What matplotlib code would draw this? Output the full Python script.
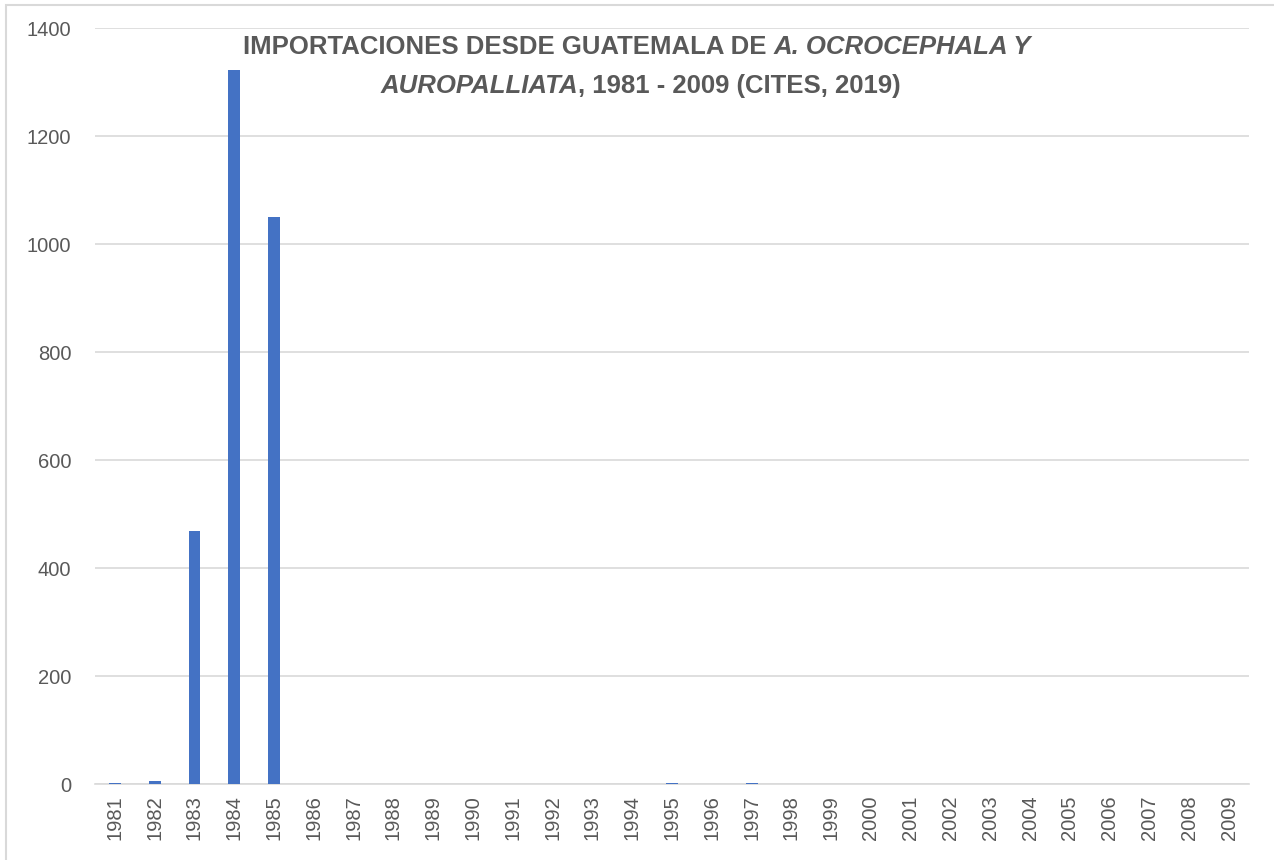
import numpy as np
import matplotlib.pyplot as plt
import matplotlib.patches as mpatches

# =====================
# DATA
# =====================
years = [str(y) for y in range(1981, 2010)]
imports = [2, 6, 468, 1322, 1050, 0, 0, 0, 0, 0,
           0, 0, 0, 0, 1, 0, 1, 0, 0, 0,
           0, 0, 0, 0, 0, 0, 0, 0, 0]
y_ticks = [0, 200, 400, 600, 800, 1000, 1200, 1400]

BAR_COLOR = '#4472C4'
GRID_COLOR = '#d9d9d9'
TEXT_COLOR = '#595959'
FONT = 'Liberation Sans'

plt.rcParams['font.family'] = FONT

fig = plt.figure(figsize=(12.74, 8.6), dpi=100)
ax = fig.add_axes([95 / 1274, 1 - 784 / 860, (1249 - 95) / 1274, (784 - 28) / 860])

x = np.arange(len(years))
ax.bar(x, imports, width=0.3, color=BAR_COLOR, zorder=3)

ax.set_xlim(-0.5, len(years) - 0.5)
ax.set_ylim(0, 1400)
ax.set_yticks(y_ticks)
ax.set_yticklabels([str(v) for v in y_ticks])
ax.set_xticks(x)
ax.set_xticklabels(years, rotation=90)
ax.tick_params(axis='both', length=0, labelsize=14.5, colors=TEXT_COLOR)
ax.tick_params(axis='y', pad=17)
ax.tick_params(axis='x', pad=8)

ax.grid(axis='y', color=GRID_COLOR, linewidth=1.2, zorder=0)
for side in ['top', 'right', 'left']:
    ax.spines[side].set_visible(False)
ax.spines['bottom'].set_color(GRID_COLOR)
ax.spines['bottom'].set_linewidth(1.2)

# outer chart frame
fig.patches.append(mpatches.Rectangle((6 / 1274, -0.05), 1.1, 1 - 5.5 / 860 + 0.05,
                                      transform=fig.transFigure, fill=False,
                                      edgecolor=GRID_COLOR, linewidth=1.5))

# title in pieces (mixed italic)
title_lines = [
    [("IMPORTACIONES DESDE GUATEMALA DE ", 'normal'), ("A. OCROCEPHALA Y", 'italic')],
    [("AUROPALLIATA", 'italic'), (", 1981 - 2009 (CITES, 2019)", 'normal')],
]
line_centers = [(637, 47), (641, 86)]
title_size = 18.5

renderer = fig.canvas.get_renderer()
for pieces, (cx, cy) in zip(title_lines, line_centers):
    texts = []
    for s, style in pieces:
        t = fig.text(0, 1 - cy / 860, s, fontsize=title_size, fontweight='bold',
                     fontstyle=style, color=TEXT_COLOR, va='center', ha='left')
        texts.append(t)
    widths = [t.get_window_extent(renderer).width for t in texts]
    start = cx - sum(widths) / 2
    for t, w in zip(texts, widths):
        t.set_x(start / 1274)
        start += w

fig.savefig('out.png', dpi=100)
